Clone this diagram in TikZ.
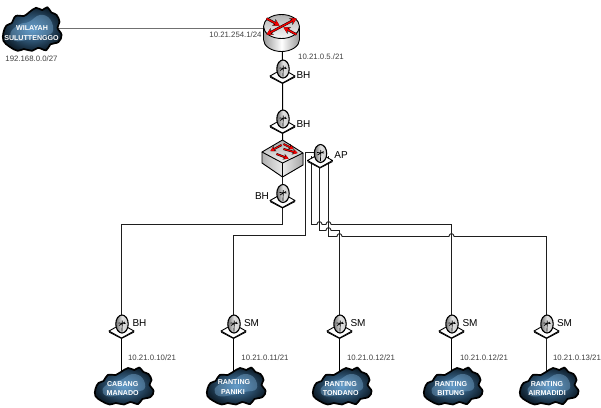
\documentclass[tikz,border=0pt]{standalone}
\usepackage{fontspec}
\setmainfont{Liberation Sans}
\usetikzlibrary{backgrounds,arrows.meta}
\definecolor{wire}{HTML}{1E1E1E}
\definecolor{wiregray}{HTML}{707070}
\definecolor{cloudmid}{HTML}{4F8CBE}
\definecolor{cloudlight}{HTML}{7FB2DA}
\definecolor{clouddark}{HTML}{10212F}
\tikzset{
  x=1pt,y=-1pt,
  wireline/.style={draw=wire,line width=0.9pt,line join=miter},
  blackwire/.style={draw=black,line width=1pt},
  grayline/.style={draw=wiregray,line width=1.4pt},
  iplabel/.style={inner sep=0pt,text=black!75,font=\fontsize{7.8}{9}\selectfont},
  devlabel/.style={inner sep=0pt,text=black,font=\fontsize{10}{12}\selectfont},
  cloudtext/.style={inner sep=0pt,text=white,font=\bfseries\fontsize{7.1}{9}\selectfont},
  redarrow/.style={draw=red!95!black,line width=1.5pt,-{Stealth[length=5.4pt,width=6pt]}},
  blackarrow/.style={draw=black,line width=2.4pt,-{Stealth[length=6.6pt,width=7.4pt]}},
}
\newcommand\cloudat[5]{% name x y scalex scaley
  \coordinate (#1) at (#2,#3);
  \begin{scope}[shift={(#2,#3)},xscale=#4,yscale=#5]
    \draw[draw=black,line width=1.7pt,line join=round,inner color=cloudmid,outer color=clouddark]
      plot[smooth cycle,tension=0.65] coordinates {(-28,3) (-25,-3) (-20,-5) (-16,-11) (-8,-11) (-3,-14) (4,-18) (10,-16) (15,-18.5) (19,-14) (24,-12) (27,-6) (25,-1) (29,5) (26,11) (18,13) (14,18) (6,16) (0,18.5) (-8,17) (-14,18.5) (-22,15) (-28,10)};
    \fill[cloudlight,opacity=0.4]
      plot[smooth cycle,tension=0.7] coordinates {(-21,3) (-12,-4) (-3,-6) (8,-12) (18,-8) (20,3) (8,6) (-4,9) (-17,10)};
  \end{scope}
}
\newcommand\dishat[3]{% name x y
  \coordinate (#1) at (#2,#3);
  \begin{scope}[shift={(#2,#3)}]
    \fill[black] (-12.5,5) -- (0,11.5) -- (12.5,5) -- (12.5,6) -- (0,12.5) -- (-12.5,6) -- cycle;
    \draw[draw=black,fill=white,line width=0.9pt,line join=round] (-12.5,4.5) -- (0,-2.5) -- (12.5,4.5) -- (0,11.5) -- cycle;
    \draw[draw=black,line width=1.1pt,left color=black!55,right color=black!20,middle color=black!12] (0.5,-2.5) ellipse (6.2 and 9);
    \draw[black,line width=0.7pt] (-3,-3.5) -- (4,-3) (0.8,-6) -- (0.5,5) (-2.5,-1) -- (3.5,-4.5);
  \end{scope}
}
\newcommand\routerat[3]{%
  \coordinate (#1) at (#2,#3);
  \begin{scope}[shift={(#2,#3)}]
    \draw[draw=black,line width=0.9pt,left color=black!40,right color=black!40,middle color=white] (0,11) ellipse (18 and 12);
    \path[left color=black!40,right color=black!40,middle color=white] (-18,-2) rectangle (18,11);
    \draw[black,line width=0.9pt] (-18,-2) -- (-18,11) (18,-2) -- (18,11);
    \draw[draw=black,line width=0.9pt,top color=black!30,bottom color=black!3] (0,-2) ellipse (18 and 12);
    \foreach \a/\b/\c/\d in {0/-2/15/-10, 0/-2/-15/6, -15/-10/-2/-3, 15/6/2/-1}{
      \draw[blackarrow] (\a,\b) -- (\c,\d);
    }
    \foreach \a/\b/\c/\d in {0/-2/15/-10, 0/-2/-15/6, -15/-10/-2/-3, 15/6/2/-1}{
      \draw[redarrow] (\a,\b) -- (\c,\d);
    }
  \end{scope}
}
\newcommand\switchat[3]{%
  \coordinate (#1) at (#2,#3);
  \begin{scope}[shift={(#2,#3)}]
    \fill[left color=black!30,right color=black!8] (-20.5,-6) -- (0,5) -- (0,19) -- (-20.5,5) -- cycle;
    \fill[left color=black!8,right color=black!35] (0,5) -- (20.5,-5) -- (20.5,7) -- (0,19) -- cycle;
    \draw[draw=black,line width=0.9pt,line join=round,top color=black!32,bottom color=black!6] (-20.5,-6) -- (0,-18) -- (20.5,-5) -- (0,5) -- cycle;
    \draw[black,line width=0.9pt,line join=round] (-20.5,-6) -- (-20.5,5) -- (0,19) -- (20.5,7) -- (20.5,-5) (0,5) -- (0,19);
    \foreach \a/\b/\c/\d in {-1/-13/-12/-7, 1/-14/11/-9, -6/-4/6/0.5, 1/-9/15/-5}{
      \draw[draw=black,line width=2pt,-{Stealth[length=5.2pt,width=6pt]}] (\a,\b) -- (\c,\d);
      \draw[draw=red!95!black,line width=1.2pt,-{Stealth[length=4.2pt,width=4.8pt]}] (\a,\b) -- (\c,\d);
    }
  \end{scope}
}
\newcommand\hop[2]{-- (#1-2.6,#2) .. controls (#1-2.2,#2-3.8) and (#1+2.2,#2-3.8) .. (#1+2.6,#2)}
\begin{document}
\begin{tikzpicture}
\useasboundingbox (0,0) rectangle (601,407);
% devices
\cloudat{c0}{32}{29}{1.02}{1.18}
\routerat{rt}{281.5}{28.5}
\dishat{d1}{282.5}{71.5}
\dishat{d2}{282.5}{121.5}
\switchat{sw}{282.5}{158}
\dishat{d3}{282.5}{196}
\dishat{ap}{320}{156}
\dishat{d5}{121.5}{326.5}
\dishat{d6}{233.5}{326.5}
\dishat{d7}{339.5}{326.5}
\dishat{d8}{451.5}{326.5}
\dishat{d9}{546.5}{326.5}
\cloudat{c5}{124}{386}{1.02}{1}
\cloudat{c6}{236}{386}{1.02}{1}
\cloudat{c7}{342}{386}{1.02}{1}
\cloudat{c8}{453}{386}{1.02}{1}
\cloudat{c9}{549}{386}{1.02}{1}
% connectors
\begin{scope}[on background layer]
  \fill[white] (0,0) rectangle (601,407);
  \draw[grayline] (c0 |- rt) -- (rt);
  \draw[blackwire] (rt) -- (282.5,60) -- (d1) -- (d2) -- (sw);
  \draw[wireline] (sw) -- (d3);
  \draw[wireline] (d3) -- (282.5,224.5) -- (121.5,224.5) -- (d5);
  \draw[blackwire] (d5) -- (d5 |- c5);
  \draw[wireline] (d6) -- (233.5,235.5) -- (305.5,235.5) -- (305.5,152.5) -- (ap |- 0,152.5);
  \draw[blackwire] (d6) -- (d6 |- c6);
  \draw[wireline] (311.5,156) -- (311.5,224.5) \hop{319.5}{224.5} \hop{328.5}{224.5} -- (451.5,224.5) -- (d8);
  \draw[blackwire] (d8) -- (d8 |- c8);
  \draw[wireline] (319.5,156) -- (319.5,230.5) \hop{328.5}{230.5} -- (339.5,230.5) -- (d7);
  \draw[blackwire] (d7) -- (d7 |- c7);
  \draw[wireline] (328.5,156) -- (328.5,236.5) \hop{339.5}{236.5} \hop{451.5}{236.5} -- (546.5,236.5) -- (d9);
  \draw[wireline] (d9) -- (d9 |- c9);
\end{scope}
% labels
\node[cloudtext] (t0a) at (32,28.5) {WILAYAH};
\node[cloudtext] (t0b) at (31.5,38) {SULUTTENGGO};
\node[iplabel] (ip0) at (31.5,59) {192.168.0.0/27};
\node[iplabel] (ip1) at (235.5,35) {10.21.254.1/24};
\node[iplabel] (ip2) at (321,57) {10.21.0.5./21};
\node[devlabel] (b1) at (303.5,75) {BH};
\node[devlabel] (b2) at (303.5,124) {BH};
\node[devlabel] (b3) at (341,155) {AP};
\node[devlabel] (b4) at (262,196) {BH};
\node[devlabel] (b5) at (139.5,322.7) {BH};
\node[devlabel] (b6) at (251.5,322.7) {SM};
\node[devlabel] (b7) at (358,322.7) {SM};
\node[devlabel] (b8) at (470,322.7) {SM};
\node[devlabel] (b9) at (564.5,322.7) {SM};
\node[iplabel] (ip5) at (152,357.7) {10.21.0.10/21};
\node[iplabel] (ip6) at (265,357.7) {10.21.0.11/21};
\node[iplabel] (ip7) at (371,357.7) {10.21.0.12/21};
\node[iplabel] (ip8) at (484,357.7) {10.21.0.12/21};
\node[iplabel] (ip9) at (577,357.7) {10.21.0.13/21};
\node[cloudtext] (t5a) at (122.7,383.7) {CABANG};
\node[cloudtext] (t5b) at (122.7,393) {MANADO};
\node[cloudtext] (t6a) at (234,382) {RANTING};
\node[cloudtext] (t6b) at (233,391.7) {PANIKI};
\node[cloudtext] (t7a) at (340.7,383.7) {RANTING};
\node[cloudtext] (t7b) at (340.7,392.7) {TONDANO};
\node[cloudtext] (t8a) at (451,383.7) {RANTING};
\node[cloudtext] (t8b) at (451,392.7) {BITUNG};
\node[cloudtext] (t9a) at (547,383.7) {RANTING};
\node[cloudtext] (t9b) at (547,392.7) {AIRMADIDI};
\end{tikzpicture}
\end{document}
